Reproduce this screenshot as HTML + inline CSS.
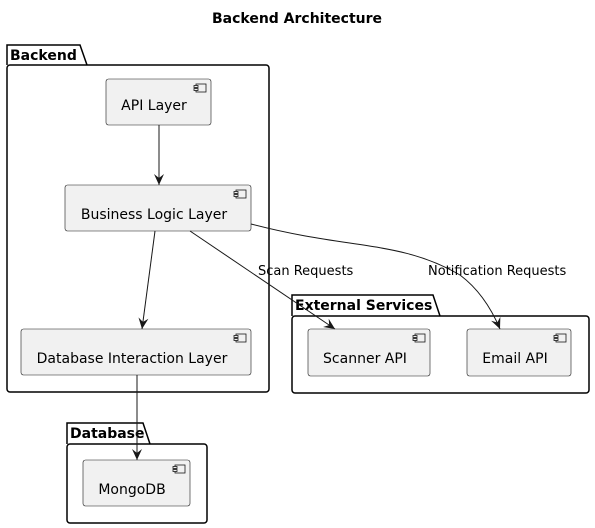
<!DOCTYPE html>
<html><head><style>body{margin:0;background:#fff}svg{display:block}</style></head><body>
<svg width="595" height="528" viewBox="0 0 595 528" xmlns="http://www.w3.org/2000/svg" font-family="DejaVu Sans, Liberation Sans, sans-serif">
<defs>
<marker id="a" markerWidth="12" markerHeight="12" refX="11" refY="6" orient="auto" markerUnits="userSpaceOnUse"><path d="M0,1 L11,6 L0,11 L4,6 Z" fill="#181818"/></marker>
<g id="ic"><rect x="0" y="0" width="10" height="8" fill="#f1f1f1" stroke="#181818" stroke-width="0.8"/><rect x="-2" y="1.5" width="4" height="2" fill="#f1f1f1" stroke="#181818" stroke-width="0.8"/><rect x="-2" y="4.5" width="4" height="2" fill="#f1f1f1" stroke="#181818" stroke-width="0.8"/></g>
</defs>
<text x="297" y="23" text-anchor="middle" font-weight="bold" font-size="14">Backend Architecture</text>
<g fill="none" stroke="#000" stroke-width="1.5">
<path d="M7,65 L7,45 L80,45 L87,65"/><rect x="7" y="65" width="262" height="327" rx="3"/>
<path d="M292,316 L292,295 L433,295 L440,316"/><rect x="292" y="316" width="297" height="77" rx="3"/>
<path d="M67,444 L67,423 L143,423 L150,444"/><rect x="67" y="444" width="140" height="79" rx="3"/>
</g>
<g font-weight="bold" font-size="14"><text x="10" y="60">Backend</text><text x="295" y="310">External Services</text><text x="70" y="438">Database</text></g>
<g fill="#f1f1f1" stroke="#181818" stroke-width="0.6">
<rect x="106" y="79" width="105" height="46" rx="2.5"/><rect x="65" y="185" width="186" height="46" rx="2.5"/><rect x="21" y="329" width="230" height="46" rx="2.5"/>
<rect x="308" y="329" width="122" height="47" rx="2.5"/><rect x="467" y="329" width="104" height="47" rx="2.5"/><rect x="83" y="460" width="107" height="46" rx="2.5"/>
</g>
<use href="#ic" x="196" y="84"/><use href="#ic" x="236" y="190"/><use href="#ic" x="236" y="334"/><use href="#ic" x="415" y="334"/><use href="#ic" x="556" y="334"/><use href="#ic" x="175" y="465"/>
<g font-size="14" text-anchor="middle" fill="#000">
<text x="154" y="110">API Layer</text><text x="154" y="219">Business Logic Layer</text><text x="132" y="363">Database Interaction Layer</text>
<text x="365" y="363">Scanner API</text><text x="515" y="363">Email API</text><text x="132" y="494">MongoDB</text>
</g>
<g fill="none" stroke="#181818" stroke-width="1" marker-end="url(#a)">
<path d="M159,125 L159,185"/><path d="M155,231 L142,329"/><path d="M190,231 L335,329"/>
<path d="M251,224 C350,250 400,240 460,275 C480,290 492,310 500,329"/><path d="M137,375 L137,460"/>
</g>
<g font-size="13" fill="#000"><text x="258" y="275">Scan Requests</text><text x="428" y="275">Notification Requests</text></g>
</svg>
</body></html>
